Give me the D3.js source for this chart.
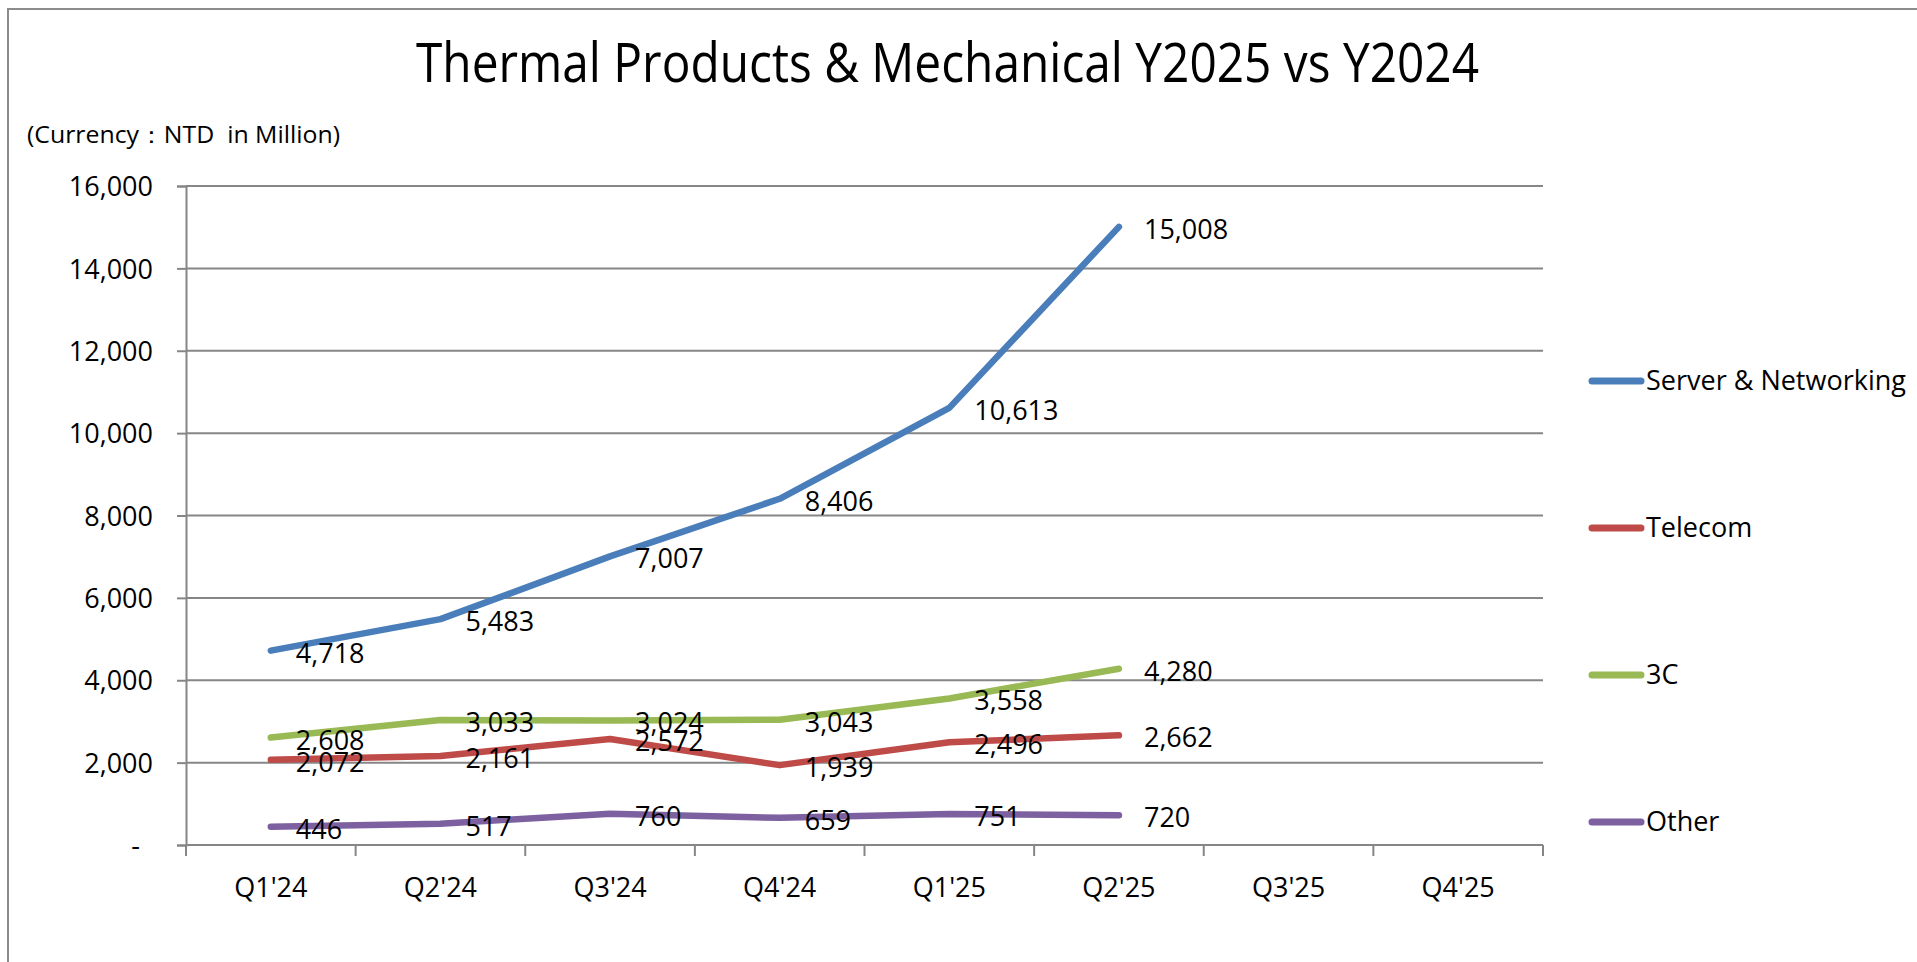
<!DOCTYPE html>
<html>
<head>
<meta charset="utf-8">
<script src="https://cdn.jsdelivr.net/npm/d3@7"></script>
<style>
  html, body { margin: 0; padding: 0; background: #fff; }
  svg { display: block; font-family: "Open Sans", "Liberation Sans", sans-serif; }
</style>
</head>
<body>
<script>
// chart data
var quarters = ["Q1'24", "Q2'24", "Q3'24", "Q4'24", "Q1'25", "Q2'25", "Q3'25", "Q4'25"];
var seriesNames = ["Server & Networking", "Telecom", "3C", "Other"];
var serverValues = [4718, 5483, 7007, 8406, 10613, 15008];
var telecomValues = [2072, 2161, 2572, 1939, 2496, 2662];
var threeCValues = [2608, 3033, 3024, 3043, 3558, 4280];
var otherValues = [446, 517, 760, 659, 751, 720];
var yTicks = [0, 2000, 4000, 6000, 8000, 10000, 12000, 14000, 16000];
var colors = ["#4a7ebb", "#be4b48", "#98b954", "#7d60a0"];

var width = 1917, height = 962;
var plotLeft = 186, plotRight = 1543, plotTop = 186, plotBottom = 845;
var gridColor = "#868686";

var svg = d3.select("body").append("svg")
    .attr("width", width)
    .attr("height", height);

// outer frame (only top and left edges are visible in the picture)
svg.append("rect")
    .attr("x", 8).attr("y", 9)
    .attr("width", width + 20).attr("height", height + 20)
    .attr("fill", "none")
    .attr("stroke", "#8c8c8c")
    .attr("stroke-width", 2);

svg.append("text")
    .attr("x", 416).attr("y", 82)
    .attr("font-size", 55)
    .attr("font-weight", 500)
    .attr("textLength", 1063)
    .attr("lengthAdjust", "spacingAndGlyphs")
    .text("Thermal Products & Mechanical Y2025 vs Y2024");

svg.append("text")
    .attr("x", 27).attr("y", 143)
    .attr("font-size", 23)
    .attr("textLength", 313)
    .attr("lengthAdjust", "spacingAndGlyphs")
    .style("white-space", "pre")
    .text("(Currency：NTD  in Million)");

var x = d3.scaleBand().domain(quarters).range([plotLeft, plotRight]);
var y = d3.scaleLinear().domain([0, 16000]).range([plotBottom, plotTop]);

// horizontal gridlines
svg.append("g").selectAll("line").data(yTicks).enter().append("line")
    .attr("x1", plotLeft).attr("x2", plotRight)
    .attr("y1", function (d) { return y(d); })
    .attr("y2", function (d) { return y(d); })
    .attr("stroke", gridColor)
    .attr("stroke-width", 2);

// y axis
var yAxis = svg.append("g")
    .attr("transform", "translate(" + plotLeft + ",0)")
    .call(d3.axisLeft(y).tickValues(yTicks).tickSize(9).tickPadding(24)
        .tickFormat(function (d) { return d === 0 ? "-" : d3.format(",")(d); }));
yAxis.attr("font-family", null).attr("font-size", null);
yAxis.select(".domain").attr("stroke", gridColor).attr("stroke-width", 2);
yAxis.selectAll(".tick line").attr("stroke", gridColor).attr("stroke-width", 2);
yAxis.selectAll(".tick text")
    .attr("font-size", 27)
    .attr("fill", "#000")
    .attr("dy", "0.36em")
    .attr("dx", function (d) { return d === 0 ? -13 : 0; });

// x axis: tick marks at band edges, labels at band centres
var edges = d3.range(quarters.length + 1).map(function (i) { return plotLeft + i * x.step(); });
svg.append("g").selectAll("line").data(edges).enter().append("line")
    .attr("x1", function (d) { return d; }).attr("x2", function (d) { return d; })
    .attr("y1", plotBottom).attr("y2", plotBottom + 11)
    .attr("stroke", gridColor)
    .attr("stroke-width", 2);

var xAxis = svg.append("g")
    .attr("transform", "translate(0," + plotBottom + ")")
    .call(d3.axisBottom(x).tickSize(0));
xAxis.attr("font-family", null).attr("font-size", null);
xAxis.select(".domain").remove();
xAxis.selectAll(".tick text")
    .attr("font-size", 27)
    .attr("fill", "#000")
    .attr("y", 52)
    .attr("dy", 0);

// series lines
var allValues = [serverValues, telecomValues, threeCValues, otherValues];
var series = allValues.map(function (vals, i) {
    return {
        name: seriesNames[i],
        color: colors[i],
        points: vals.map(function (v, j) { return { q: quarters[j], v: v }; })
    };
});

var line = d3.line()
    .x(function (d) { return x(d.q) + x.bandwidth() / 2; })
    .y(function (d) { return y(d.v); });

svg.append("g").selectAll("path").data(series).enter().append("path")
    .attr("d", function (d) { return line(d.points); })
    .attr("fill", "none")
    .attr("stroke", function (d) { return d.color; })
    .attr("stroke-width", 6.5)
    .attr("stroke-linejoin", "round")
    .attr("stroke-linecap", "round");

// data labels on top of lines
var labelGroups = svg.append("g").selectAll("g").data(series).enter().append("g");
labelGroups.selectAll("text").data(function (d) { return d.points; }).enter().append("text")
    .attr("x", function (d) { return x(d.q) + x.bandwidth() / 2 + 25; })
    .attr("y", function (d) { return y(d.v) + 12; })
    .attr("font-size", 27)
    .text(function (d) { return d3.format(",")(d.v); });

// legend
var legend = svg.append("g").selectAll("g").data(series).enter().append("g")
    .attr("transform", function (d, i) { return "translate(1589," + (381 + i * 147) + ")"; });
legend.append("line")
    .attr("x1", 3).attr("x2", 52)
    .attr("stroke", function (d) { return d.color; })
    .attr("stroke-width", 7)
    .attr("stroke-linecap", "round");
legend.append("text")
    .attr("x", 57).attr("y", 9)
    .attr("font-size", 27)
    .text(function (d) { return d.name; });
</script>
</body>
</html>
